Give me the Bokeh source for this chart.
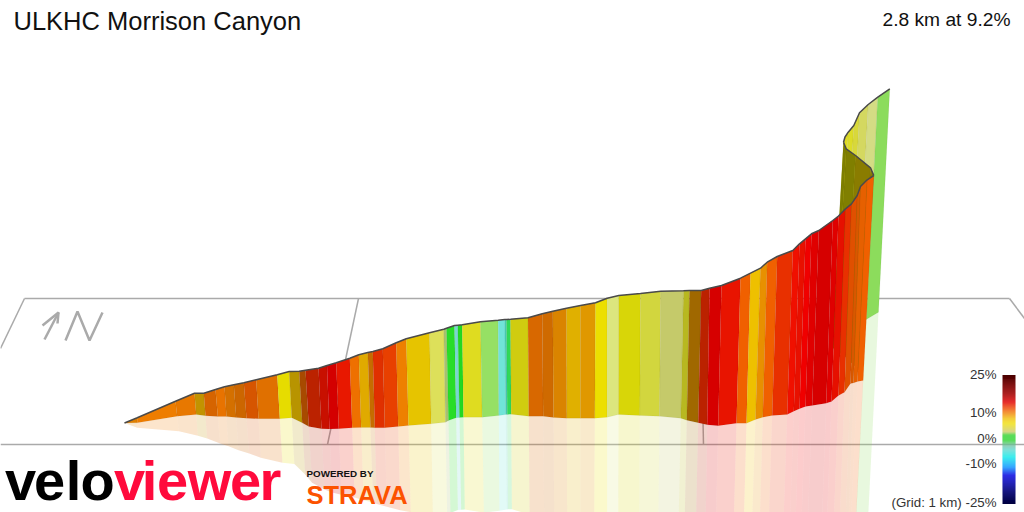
from bokeh.plotting import figure
from bokeh.embed import file_html
from bokeh.resources import INLINE
from bokeh.core.properties import value
import numpy as np

TITLE = "ULKHC Morrison Canyon"
SUMMARY = "2.8 km at 9.2%"

# road surface edge and ground edge of the climb
road_x = [124,136.7,175,194,203.3,215,224,233.3,243.3,255.7,276.7,288.7,298.7,305,318,326.5,335.7,349.3,358.3,367.3,372.3,382.3,395.7,405.7,429,443.3,446,454,457.3,461.7,480,497.7,504.3,506,510,527.5,541.7,552.3,566,580,595,606.7,618.3,640,660.3,683,689,700.7,709,721,740,750,760,766.7,776.7,792.3,799,805,811,818.3,832.3,838,845,851,856.7,860,866.7,873.3]
road_y = [422.5,417.3,400.7,392.7,392.7,389,386.3,384.3,382.3,379.3,374.3,371,370.7,369.7,367.7,365,362.3,357.7,354.3,352,351,348.3,342.3,338.3,332.3,328.7,327.7,325,324.7,324.3,321.3,319.7,319,319,318.7,317.3,313.3,310.7,307.7,305,302.3,297.7,295,293,290.7,290.3,290,290,287.7,285,277.7,272.7,267.7,261.7,256,250,243.3,238.3,233.3,230,220,215.5,208.3,203.3,195,186,179.3,175]
base_x = [124,136.7,176.7,195.7,205,217.3,226,235.7,246,258,279.3,291.3,301.7,308.3,321,329,338.3,351.7,360.7,370,374.3,384.3,397.7,408,430.7,445,448,455.7,459,463,481.7,498.3,505.3,506.8,510.7,528.3,542.7,553,566.3,580,594.3,606.7,618,639.3,659,680.3,686.3,697.7,706.7,717.7,736,746,755,762.3,771.7,786.7,793.3,799,805,811.7,825.7,831,838,844,850,853,857,862.7]
base_y = [422.5,422.3,415.7,414,415.3,416,416,417,417.7,418.3,418.3,417.3,422.3,426,428.3,428.5,428.3,427.3,427,427,427.3,427.3,426,425,423.3,421.7,420,417.3,417,416.7,416.7,415,414,413.9,413.7,415.7,415.7,417,417.7,417.7,417.7,416.7,414,415,415.7,417.7,419.7,422.3,424.3,425.3,422.7,422.7,419,416.7,415,414,410.7,408.3,406,405,402.7,401,395,391.7,383,382.5,381,380]
strip_colors = ["#e08000","#ee7d00","#e87800","#c29300","#d66400","#e87300","#d47000","#cc6600","#d65500","#e07000","#e6dc00","#b89400","#a84a00","#bb2200","#c81000","#d40000","#e81800","#ee7000","#e0aa00","#c66c00","#e03000","#e84000","#ee8000","#e6c400","#dde05a","#a8c070","#28dd28","#78d8d0","#22d822","#dfdc20","#96e064","#70e4d8","#48ccb0","#30d858","#d0cc10","#d86800","#cf6a00","#da8400","#e0b000","#e09800","#ecdf00","#dce67e","#d8d608","#d2d63e","#c5ca6a","#b8b820","#a06800","#bb2200","#d60000","#e81400","#f06000","#eec000","#e89000","#f06000","#e83000","#f01000","#e81000","#f00000","#e00000","#d60000","#e00000","#e61000","#e83000","#e05000","#d85800","#e66000","#f06000"]

# switchback: the part of the road running back, seen from behind
back_x = [873.3,870,855,845.7,843]
back_y = [175,167.3,155,148.3,141.7]
back_base_x = [861.7,858.5,843.5,834,831.5]
back_base_y = [378,370,355,350,345]
back_colors = ["#8a7c00","#8a7c00","#807f00","#7e7e00"]

# last part of the climb, beyond the switchback
upper_x = [843,844.5,847.7,853.3,859,867.7,877.3,889.3]
upper_y = [141.7,136.5,131.7,125,112.3,104,96.7,88.3]
upper_base_x = [832,833.5,836.5,842,847.5,856,865.7,878]
upper_base_y = [345,343.5,342,338,333,328,319,311.7]
upper_colors = ["#e0dc20","#e0dc20","#dcdc28","#d8d83a","#d4d860","#d4dc84","#8cdc5c"]

# floor grid
grid_x = [[24,1009],[24,0],[358,327],[700,703],[1009,1024],[0,1024]]
grid_y = [[298,298],[298,348],[298,444],[298,444],[298,318],[444,444]]

# north arrow
arrow_x = [[44,58],[42,58,57],[65,77,89,102]]
arrow_y = [[339,312],[325,312,323],[340,311,340,312]]

# gradient scale
scale_grades = [25,17.8,14.6,11.3,8,6.1,2.9,1.6,-0.4,-2.3,-4.3,-6.9,-10.8,-14,-20.6,-25]
scale_colors = ["#4a0000","#a00000","#e00000","#f06000","#f0c000","#eedd00","#c8c860","#20d020","#20d020","#70c0a0","#50d8d0","#00e8e8","#0090ff","#0000e0","#000070","#000040"]
scale_labels = ["25%","10%","0%","-10%","(Grid: 1 km) -25%"]
scale_label_y = [374,412,438,463,502]


def hex_rgb(c):
    return [int(c[i:i+2], 16) for i in (1, 3, 5)]


def strips(tx, ty, bx, by):
    xs, ys = [], []
    for i in range(len(tx) - 1):
        xs.append([tx[i], tx[i+1], bx[i+1], bx[i]])
        ys.append([ty[i], ty[i+1], by[i+1], by[i]])
    return xs, ys


def mirrored(tx, ty, bx, by):
    rx = [2*b - t for b, t in zip(bx, tx)]
    ry = [2*b - t for b, t in zip(by, ty)]
    return strips(bx, by, rx, ry)


p = figure(width=1024, height=512, x_range=(0, 1024), y_range=(512, 0),
           output_backend="svg", toolbar_location=None, min_border=0,
           outline_line_color=None, background_fill_color="white", border_fill_color="white")
p.axis.visible = False
p.grid.visible = False

p.multi_line(grid_x, grid_y, line_color="#aaaaaa", line_width=1.5)
p.multi_line(arrow_x, arrow_y, line_color="#aaaaaa", line_width=2.5)

# reflections
xs, ys = mirrored(upper_x[-2:], upper_y[-2:], upper_base_x[-2:], upper_base_y[-2:])
p.patches(xs, ys, fill_color=upper_colors[-1], fill_alpha=0.2, line_color=None)
xs, ys = mirrored(road_x, road_y, base_x, base_y)
p.patches(xs, ys, fill_color=strip_colors, fill_alpha=0.2, line_color=None)

# far part, back wall, near wall
for tx, ty, bx, by, cols in [(upper_x, upper_y, upper_base_x, upper_base_y, upper_colors),
                             (back_x, back_y, back_base_x, back_base_y, back_colors),
                             (road_x, road_y, base_x, base_y, strip_colors)]:
    xs, ys = strips(tx, ty, bx, by)
    p.patches(xs, ys, fill_color=cols, line_color="#000000", line_alpha=0.07, line_width=0.6)
    p.line(tx, ty, line_color="#4a4a4a", line_width=1.5)

# gradient scale bar
fine = np.linspace(25, -25, 128)
rgb = np.array([hex_rgb(c) for c in scale_colors], dtype=float)
g_asc = np.array(scale_grades[::-1])
cols = []
for g in fine:
    v = [np.interp(g, g_asc, rgb[::-1, k]) for k in range(3)]
    cols.append("#%02x%02x%02x" % tuple(int(round(a)) for a in v))
y_of = lambda g: 439 - 2.56 * g
tops = [y_of(g + 50/128/2) for g in fine]
bots = [y_of(g - 50/128/2) for g in fine]
p.quad(left=1002, right=1015, top=tops, bottom=bots, fill_color=cols, line_color=None)

fnt = value("Liberation Sans")
p.text([13], [20], text=[TITLE], text_font=fnt, text_font_size="25.5px", text_color="#111111",
       text_align="left", text_baseline="middle")
p.text([1010], [19], text=[SUMMARY], text_font=fnt, text_font_size="19.2px", text_color="#111111",
       text_align="right", text_baseline="middle")
p.text([996]*5, scale_label_y, text=scale_labels, text_font=fnt, text_font_size="13.3px", text_color="#333333",
       text_align="right", text_baseline="middle")

# logo
velo = list("velo")
velo_x = [20, 49, 73, 97]
viewer = list("viewer")
viewer_x = [129, 149, 172, 209, 245, 270]
p.text(velo_x, [480.4]*4, text=velo, text_font=fnt, text_font_style="bold", text_font_size="56px",
       text_color="#000000", text_align="center", text_baseline="middle")
p.text(viewer_x, [480.4]*6, text=viewer, text_font=fnt, text_font_style="bold", text_font_size="56px",
       text_color="#ff0a3c", text_align="center", text_baseline="middle")
p.text([306], [473], text=["POWERED BY"], text_font=fnt, text_font_style="bold", text_font_size="9.8px", text_color="#111111",
       text_align="left", text_baseline="middle")
p.text([306], [494], text=["STRAVA"], text_font=fnt, text_font_style="bold", text_font_size="25.5px",
       text_color="#fc5200", text_align="left", text_baseline="middle")

open("out.html", "w").write(file_html(p, INLINE))
